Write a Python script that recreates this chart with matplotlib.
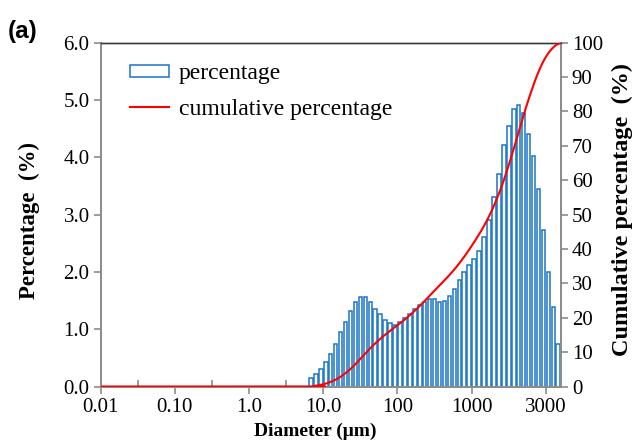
import numpy as np
import matplotlib
matplotlib.use("Agg")
import matplotlib.pyplot as plt
from matplotlib.patches import Patch
from matplotlib.lines import Line2D

plt.rcParams['font.family'] = ['Liberation Serif', 'DejaVu Serif']

# ---- data ----
tick_labels = ["0.01", "0.10", "1.0", "10.0", "100", "1000", "3000"]
n_bins = 93            # size classes on the category axis
bins_per_label = 15    # classes between labelled ticks
first_bin = 42         # first non-empty class
percentage = [0.14, 0.21, 0.30, 0.43, 0.57, 0.74, 0.95, 1.13, 1.32, 1.48,
              1.56, 1.56, 1.47, 1.36, 1.26, 1.16, 1.10, 1.08, 1.12, 1.19,
              1.27, 1.35, 1.42, 1.48, 1.52, 1.52, 1.47, 1.50, 1.58, 1.71,
              1.86, 2.00, 2.12, 2.22, 2.36, 2.61, 2.90, 3.31, 3.70, 4.21,
              4.55, 4.85, 4.91, 4.77, 4.40, 4.03, 3.45, 2.73, 2.00, 1.39,
              0.74]

perc = np.array(percentage)
bar_pos = first_bin + np.arange(len(perc)) + 0.5
cum = np.concatenate([[0.0], np.cumsum(perc)])
cum = cum / cum[-1] * 100.0
cum_x = np.concatenate([[0.0], first_bin + np.arange(len(perc) + 1)])
cum_y = np.concatenate([[0.0], cum])

# Catmull-Rom smoothing like a spreadsheet smoothed line
def smooth(x, y, n=12):
    xs, ys = [x[0]], [y[0]]
    P = np.column_stack([x, y])
    P = np.vstack([P[0], P, P[-1]])
    t = np.linspace(0, 1, n + 1)[1:]
    for i in range(1, len(P) - 2):
        p0, p1, p2, p3 = P[i - 1], P[i], P[i + 1], P[i + 2]
        for tt in t:
            pt = 0.5 * ((2 * p1) + (-p0 + p2) * tt +
                        (2 * p0 - 5 * p1 + 4 * p2 - p3) * tt ** 2 +
                        (-p0 + 3 * p1 - 3 * p2 + p3) * tt ** 3)
            xs.append(pt[0]); ys.append(pt[1])
    return np.array(xs), np.array(ys)

sx, sy = smooth(cum_x, cum_y)

# ---- figure ----
fig = plt.figure(figsize=(6.39, 4.44), dpi=100)
ax = fig.add_axes([0.1576, 0.1295, 0.7199, 0.7743])
ax2 = ax.twinx()

blue = '#1a75c8'
ax.bar(bar_pos, perc, width=0.72, color='white', edgecolor=blue, linewidth=1.1, zorder=2)
ax2.plot(sx, sy, color='#ff0000', lw=1.5, zorder=3)

ax.set_xlim(0, n_bins)
ax.set_ylim(0, 6.0)
ax2.set_ylim(0, 100)

major = np.arange(len(tick_labels)) * bins_per_label
ax.set_xticks(major)
ax.set_xticklabels(tick_labels)
ax.set_xticks(major[:-1] + bins_per_label / 2, minor=True)
ax.set_yticks(np.arange(0, 6.01, 1.0))
ax.set_yticklabels([f"{v:.1f}" for v in np.arange(0, 6.01, 1.0)])
ax2.set_yticks(np.arange(0, 101, 10))

gray = '#8c8c8c'
for a in (ax, ax2):
    for s in ('left', 'right', 'bottom'):
        a.spines[s].set_color(gray)
        a.spines[s].set_linewidth(1.3)
    a.spines['top'].set_color('#3a3a3a')
    a.spines['top'].set_linewidth(1.0)

ax.tick_params(axis='x', which='major', direction='out', length=5, width=1.2,
               color=gray, labelsize=15, pad=3)
ax.tick_params(axis='x', which='minor', direction='in', length=5, width=1.2, color=gray)
ax.tick_params(axis='y', direction='out', length=5, width=1.2, color=gray, labelsize=15, pad=3)
ax2.tick_params(axis='y', direction='out', length=5, width=1.2, color=gray, labelsize=15, pad=3)

ax.set_xlabel('Diameter (\u03bcm)', fontsize=14, fontweight='bold')
ax.xaxis.set_label_coords(0.466, -0.106)
ax.set_ylabel('Percentage  (%)', fontsize=16.5, fontweight='bold')
ax.yaxis.set_label_coords(-0.132, 0.484)
ax2.set_ylabel('Cumulative percentage  (%)', fontsize=17.5, fontweight='bold')
ax2.yaxis.set_label_coords(1.112, 0.515)

handles = [Patch(facecolor='white', edgecolor=blue, linewidth=1.1),
           Line2D([], [], color='#ff0000', lw=1.5)]
ax2.legend(handles, ['percentage', 'cumulative percentage'], loc='upper left',
           bbox_to_anchor=(0.064, 0.94), frameon=False, fontsize=17,
           borderpad=0, borderaxespad=0,
           handlelength=1.65, handleheight=0.45, labelspacing=0.6, handletextpad=0.4)

fig.text(0.012, 0.955, '(a)', fontsize=17.5, fontweight='bold', family='Liberation Sans',
         va='top')

fig.savefig('out.png', dpi=100)
